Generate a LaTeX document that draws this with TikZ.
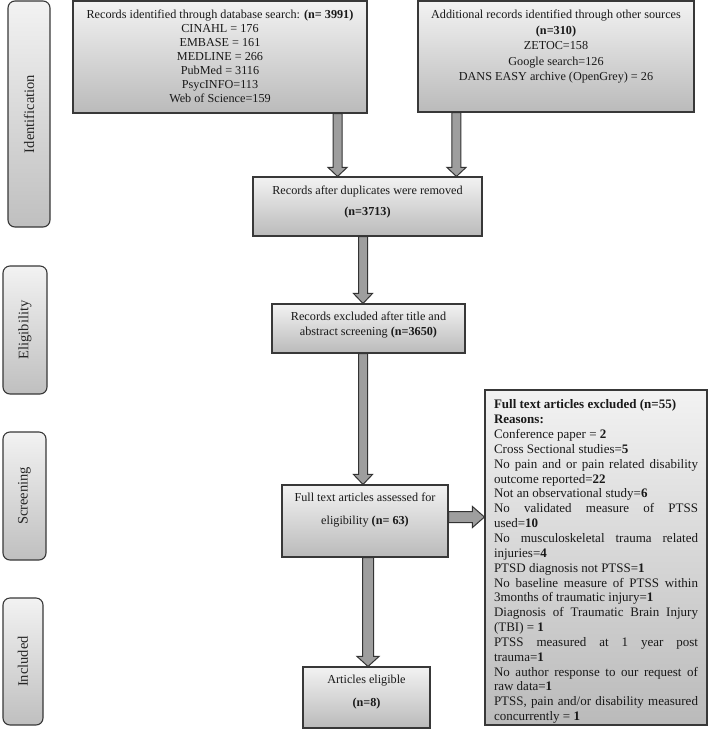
\documentclass[tikz,border=0pt]{standalone}
\usepackage{fontspec}
\setmainfont{Liberation Serif}
\usepackage{graphicx}
\usetikzlibrary{calc}
\tikzset{
  box/.style={rectangle, draw=black!78, line width=1.1pt, top color=black!5, bottom color=black!27, inner sep=0pt, text=black!90},
  sidebox/.style={rectangle, draw=black!78, line width=1.1pt, top color=black!5, bottom color=black!25, rounded corners=7pt, inner sep=0pt, text=black!85},
  blkarrow/.style={draw=black!80, line width=1pt, fill=black!38, line join=miter},
}
% width, height, top gap, font size, baselineskip, text
\newcommand{\btext}[6]{\parbox[c][#2pt][t]{#1pt}{\fontsize{#4}{#5}\selectfont\centering\vspace*{#3pt}#6}}
% start, end, shaft half width, head half width, head length
\newcommand{\blkdown}[5]{\draw[blkarrow] let \p1=(#1), \p2=(#2) in
  (\x1-#3pt,\y1) -- (\x1-#3pt,\y2+#5pt) -- (\x1-#4pt,\y2+#5pt) -- (\x1,\y2) --
  (\x1+#4pt,\y2+#5pt) -- (\x1+#3pt,\y2+#5pt) -- (\x1+#3pt,\y1) -- cycle;}
\newcommand{\blkright}[5]{\draw[blkarrow] let \p1=(#1), \p2=(#2) in
  (\x1,\y1+#3pt) -- (\x2-#5pt,\y1+#3pt) -- (\x2-#5pt,\y1+#4pt) -- (\x2,\y1) --
  (\x2-#5pt,\y1-#4pt) -- (\x2-#5pt,\y1-#3pt) -- (\x1,\y1-#3pt) -- cycle;}
\begin{document}
\begin{tikzpicture}[x=1pt,y=-1pt]
\useasboundingbox (0,0) rectangle (709,729);

% side labels
\node[sidebox, minimum width=42pt, minimum height=226pt] (idlab) at (29,114)
  {\fontsize{14.5}{16}\selectfont\rotatebox{90}{Identification}};
\node[sidebox, minimum width=44pt, minimum height=128pt] (ellab) at (25,330)
  {\fontsize{14.5}{16}\selectfont\rotatebox{90}{Eligibility}};
\node[sidebox, minimum width=43pt, minimum height=128pt] (sclab) at (24.5,496)
  {\fontsize{14.5}{16}\selectfont\rotatebox{90}{Screening}};
\node[sidebox, minimum width=40pt, minimum height=127pt] (inlab) at (23,661.5)
  {\fontsize{14.5}{16}\selectfont\rotatebox{90}{Included}};

% main boxes
\node[box] (db) at (220,57) {\btext{294}{112}{9.2}{12.2}{14}{%
  Records identified through database search: \textbf{(n= 3991)}\\
  CINAHL = 176\\ EMBASE = 161\\ MEDLINE = 266\\ PubMed = 3116\\
  PsycINFO=113\\ Web of Science=159}};
\node[box] (other) at (556,56.5) {\btext{276}{111}{9.2}{12.2}{15.5}{%
  Additional records identified through other sources\\
  \textbf{(n=310)}\\ ZETOC=158\\ Google search=126\\
  DANS EASY archive (OpenGrey) = 26}};
\node[box] (dup) at (367.5,206.5) {\btext{229}{59}{9.2}{12.2}{21}{%
  Records after duplicates were removed\\ \textbf{(n=3713)}}};
\node[box] (excl) at (368.5,328.5) {\btext{193}{49}{8.2}{12.2}{15}{%
  Records excluded after title and\\ abstract screening \textbf{(n=3650)}}};
\node[box] (full) at (365,521) {\btext{166}{72}{8.2}{12.2}{23}{%
  Full text articles assessed for\\ eligibility \textbf{(n= 63)}}};
\node[box] (elig) at (366.5,697.5) {\btext{127}{61}{8.2}{12.2}{23}{%
  Articles eligible\\ \textbf{(n=8)}}};
\node[box, minimum width=222pt] (reasons) at (596,557.5) {\parbox[c][335pt][t]{204pt}{%
  \fontsize{13}{14.85}\selectfont\parindent=0pt\hyphenpenalty=10000\hbadness=10000
  \vspace*{9.8pt}%
  \textbf{Full text articles excluded (n=55)}\par
  \textbf{Reasons:}\par
  Conference paper = \textbf{2}\par
  Cross Sectional studies=\textbf{5}\par
  No pain and or pain related disability\linebreak outcome reported=\textbf{22}\par
  Not an observational study=\textbf{6}\par
  No validated measure of PTSS\linebreak used=\textbf{10}\par
  No musculoskeletal trauma related\linebreak injuries=\textbf{4}\par
  PTSD diagnosis not PTSS=\textbf{1}\par
  No baseline measure of PTSS within\linebreak 3months of traumatic injury=\textbf{1}\par
  Diagnosis of Traumatic Brain Injury\linebreak (TBI) = \textbf{1}\par
  PTSS measured at 1 year post\linebreak trauma=\textbf{1}\par
  No author response to our request of\linebreak raw data=\textbf{1}\par
  PTSS, pain and/or disability measured\linebreak concurrently = \textbf{1}\par}};

% block arrows
\blkdown{$(db.south east)+(-30,0)$}{dup.north}{4.5}{9.5}{9}
\blkdown{$(other.south west)+(39,0)$}{dup.north}{4.5}{9.5}{9}
\blkdown{$(dup.south)+(-4.5,0)$}{excl.north}{4.5}{9.5}{10}
\blkdown{$(excl.south)+(-5.5,0)$}{full.north}{4.5}{9.5}{10}
\blkdown{$(full.south)+(3,0)$}{elig.north}{5.5}{11}{10}
\blkright{$(full.east)+(0,-4)$}{reasons.west}{5.5}{10.5}{12}
\end{tikzpicture}
\end{document}
